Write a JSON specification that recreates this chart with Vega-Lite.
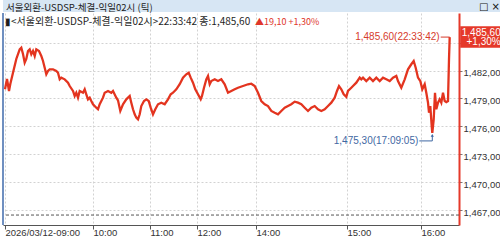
{
  "$schema": "https://vega.github.io/schema/vega-lite/v6.json",
  "padding": 0,
  "spacing": 0,
  "background": "white",
  "config": {
    "view": {"stroke": null},
    "font": "Noto Sans CJK KR",
    "axis": {"labelOverlap": false, "title": null, "gridColor": "#d2d2d2", "gridDash": [2, 2], "labelFont": "Liberation Sans", "labelFontSize": 9.5, "labelColor": "#333333"},
    "axisY": {"labelOverlap": false, "grid": true, "tickCount": 12, "domainColor": "#e5392a", "domainWidth": 2, "tickColor": "#777777", "tickSize": 3, "labelPadding": 1, "labelOffset": 2},
    "axisX": {"labelOverlap": false, "grid": true, "tickCount": 12, "domainColor": "#555555", "domainWidth": 1, "tickColor": "#555555", "tickSize": 4, "labelAlign": "left", "labelBaseline": "top", "labelPadding": -2, "labelDx": 1, "labelFlush": false, "labelBound": false}
  },
  "datasets": {
    "titlebar": [{"label": "서울외환-USDSP-체결-익일02시 (틱)", "icons": "□ ×"}],
    "header": [{"label": "▮<서울외환-USDSP-체결-익일02시>22:33:42 종:1,485,60", "chg": "▲19,10 +1,30%"}],
    "last": [{"i": 444.7, "p": 1485.6, "label": "1,485,60(22:33:42)", "price": "1,485,60", "pct": "+1,30%"}],
    "low": [{"i": 427.3, "p": 1475.3, "label": "1,475,30(17:09:05)"}],
    "ticks": [
      {"i":0,"p":1479.99},{"i":2,"p":1481.10},{"i":4,"p":1479.81},{"i":5.3,"p":1480.56},{"i":8,"p":1481.77},
      {"i":11.3,"p":1483.25},{"i":14.7,"p":1484.29},{"i":16.3,"p":1484.46},{"i":18,"p":1483.78},{"i":19.7,"p":1482.85},
      {"i":21.3,"p":1483.25},{"i":23,"p":1484.11},{"i":24.7,"p":1484.29},{"i":26.3,"p":1483.75},{"i":28,"p":1484.11},
      {"i":29.7,"p":1483.57},{"i":31.3,"p":1484.29},{"i":34,"p":1484.11},{"i":36.3,"p":1483.57},{"i":38,"p":1483.03},
      {"i":39.7,"p":1482.31},{"i":41.3,"p":1481.60},{"i":43,"p":1481.96},{"i":44.7,"p":1482.14},{"i":48,"p":1482.14},
      {"i":51.3,"p":1481.96},{"i":53,"p":1481.77},{"i":54.7,"p":1481.06},{"i":56.3,"p":1481.24},{"i":59.7,"p":1481.06},
      {"i":63,"p":1480.70},{"i":64.7,"p":1480.34},{"i":68,"p":1479.81},{"i":69.7,"p":1479.27},{"i":71.3,"p":1479.62},
      {"i":73,"p":1479.09},{"i":74.7,"p":1479.81},{"i":78,"p":1479.62},{"i":79.7,"p":1479.99},{"i":81.3,"p":1479.45},
      {"i":83,"p":1478.91},{"i":84.7,"p":1479.09},{"i":86.3,"p":1478.73},{"i":88,"p":1478.38},{"i":91.3,"p":1478.01},
      {"i":93,"p":1477.84},{"i":94.7,"p":1478.38},{"i":98,"p":1479.09},{"i":99.7,"p":1479.62},{"i":103,"p":1479.81},
      {"i":106.3,"p":1479.62},{"i":108,"p":1479.81},{"i":111.3,"p":1479.09},{"i":113,"p":1478.80},{"i":115.3,"p":1477.66},
      {"i":118,"p":1478.38},{"i":121.3,"p":1478.91},{"i":124.7,"p":1479.27},{"i":126.3,"p":1478.55},{"i":128,"p":1477.84},
      {"i":129.7,"p":1477.30},{"i":131.3,"p":1476.94},{"i":133,"p":1476.76},{"i":134.7,"p":1477.30},{"i":136.3,"p":1478.19},
      {"i":139,"p":1478.73},{"i":141.3,"p":1478.91},{"i":143.7,"p":1478.73},{"i":145.7,"p":1478.01},{"i":148,"p":1477.30},
      {"i":150.3,"p":1477.84},{"i":153,"p":1478.38},{"i":156.3,"p":1478.55},{"i":159.7,"p":1478.38},{"i":163,"p":1478.91},
      {"i":165.7,"p":1479.45},{"i":168,"p":1479.62},{"i":171.3,"p":1479.99},{"i":174.7,"p":1480.53},{"i":178,"p":1481.24},
      {"i":181.3,"p":1481.60},{"i":183.7,"p":1481.77},{"i":185.7,"p":1481.24},{"i":188,"p":1480.70},{"i":190.3,"p":1479.99},
      {"i":193,"p":1479.45},{"i":195.7,"p":1478.91},{"i":197,"p":1479.27},{"i":199,"p":1480.16},{"i":201.3,"p":1481.06},
      {"i":203,"p":1481.42},{"i":204.7,"p":1480.53},{"i":206.3,"p":1480.88},{"i":209.7,"p":1481.06},{"i":213,"p":1480.88},
      {"i":216.3,"p":1481.06},{"i":219.7,"p":1480.53},{"i":223,"p":1479.62},{"i":226.3,"p":1479.81},{"i":229.7,"p":1479.99},
      {"i":233,"p":1480.16},{"i":238,"p":1480.34},{"i":243,"p":1480.53},{"i":246.3,"p":1480.59},{"i":249.7,"p":1480.34},
      {"i":253,"p":1479.62},{"i":256.3,"p":1478.73},{"i":259.7,"p":1478.38},{"i":263,"p":1478.19},{"i":266.3,"p":1477.66},
      {"i":269.7,"p":1477.47},{"i":273,"p":1477.30},{"i":276.3,"p":1477.66},{"i":279.7,"p":1478.01},{"i":283,"p":1478.19},
      {"i":286.3,"p":1478.38},{"i":289.7,"p":1478.66},{"i":293,"p":1478.55},{"i":296.3,"p":1478.38},{"i":299.7,"p":1478.01},
      {"i":303,"p":1477.66},{"i":306.3,"p":1478.01},{"i":309.7,"p":1478.19},{"i":313,"p":1477.84},{"i":316.3,"p":1477.66},
      {"i":319.7,"p":1477.84},{"i":323,"p":1478.19},{"i":326.3,"p":1478.55},{"i":329.7,"p":1479.09},{"i":332,"p":1479.81},
      {"i":334,"p":1480.34},{"i":336.3,"p":1479.99},{"i":338.7,"p":1479.45},{"i":341.3,"p":1479.18},{"i":343,"p":1479.81},
      {"i":346.3,"p":1480.16},{"i":348,"p":1480.34},{"i":351.3,"p":1480.70},{"i":354.7,"p":1481.24},{"i":356.3,"p":1481.06},
      {"i":358,"p":1481.24},{"i":361.3,"p":1480.88},{"i":364.7,"p":1481.24},{"i":368,"p":1480.88},{"i":371.3,"p":1481.24},
      {"i":374.7,"p":1480.88},{"i":378,"p":1481.24},{"i":381.3,"p":1481.06},{"i":384.7,"p":1480.88},{"i":388,"p":1481.24},
      {"i":391.3,"p":1481.42},{"i":393,"p":1480.88},{"i":396.3,"p":1480.16},{"i":399.7,"p":1481.06},{"i":403,"p":1482.14},
      {"i":406.3,"p":1482.68},{"i":408.7,"p":1483.03},{"i":410.7,"p":1482.31},{"i":413,"p":1481.24},{"i":415.3,"p":1480.88},
      {"i":417.3,"p":1479.99},{"i":419.7,"p":1480.53},{"i":421.3,"p":1479.62},{"i":423,"p":1478.55},{"i":424,"p":1477.47},
      {"i":425.3,"p":1478.19},{"i":426.7,"p":1476.04},{"i":427.3,"p":1475.30},{"i":428.7,"p":1476.76},{"i":430,"p":1479.62},
      {"i":431.3,"p":1477.84},{"i":433,"p":1478.55},{"i":434.7,"p":1478.91},{"i":436.3,"p":1478.55},{"i":438,"p":1479.62},
      {"i":439.7,"p":1478.73},{"i":441.3,"p":1478.62},{"i":443,"p":1478.73},{"i":444,"p":1483.22},{"i":444.7,"p":1485.60}
    ]
  },
  "vconcat": [
    {
      "width": 500,
      "height": 12,
      "view": {"fill": "#d7e6f4", "stroke": null},
      "data": {"name": "titlebar"},
      "layer": [
        {
          "mark": {"type": "text", "align": "left", "baseline": "middle", "dy": 1.5, "font": "Noto Sans CJK KR", "fontSize": 9.5, "color": "#222222"},
          "encoding": {
            "x": {"datum": 3, "type": "quantitative", "scale": {"domain": [0, 500], "nice": false, "zero": false}, "axis": null},
            "text": {"field": "label"}
          }
        },
        {
          "mark": {"type": "text", "align": "right", "baseline": "middle", "dy": 1, "font": "DejaVu Sans", "fontSize": 10, "color": "#111111"},
          "encoding": {
            "x": {"datum": 497, "type": "quantitative", "scale": {"domain": [0, 500], "nice": false, "zero": false}, "axis": null},
            "text": {"field": "icons"}
          }
        }
      ]
    },
    {
      "width": 456,
      "height": 212,
      "layer": [
        {
          "data": {"name": "ticks"},
          "mark": {"type": "line", "color": "#e3341f", "strokeWidth": 2.3},
          "encoding": {
            "x": {
              "field": "i", "type": "quantitative", "title": null,
              "scale": {"domain": [-2, 454], "nice": false, "zero": false},
              "axis": {
                "orient": "bottom", "title": null, "labelOverlap": false, "tickCount": 12,
                "values": [0, 88, 145, 192, 251, 342, 416],
                "labelExpr": "datum.value == 0 ? '2026/03/12-09:00' : datum.value == 88 ? '10:00' : datum.value == 145 ? '11:00' : datum.value == 192 ? '12:00' : datum.value == 251 ? '14:00' : datum.value == 342 ? '15:00' : '16:00'"
              }
            },
            "y": {
              "field": "p", "type": "quantitative", "title": null,
              "scale": {"domain": [1465.4, 1488.19], "nice": false, "zero": false},
              "axis": {
                "orient": "right", "title": null, "labelOverlap": false, "tickCount": 12,
                "values": [1467, 1470, 1473, 1476, 1479, 1482, 1485],
                "labelExpr": "datum.value >= 1485 ? '' : replace(format(datum.value, ',.2f'), '.', ',')"
              }
            }
          }
        },
        {
          "data": {"name": "last"},
          "mark": {"type": "rule", "color": "#555555", "strokeDash": [3, 2], "strokeWidth": 1},
          "encoding": {
            "y": {"datum": 1466.47, "type": "quantitative", "title": null, "scale": {"domain": [1465.4, 1488.19], "nice": false, "zero": false}}
          }
        },
        {
          "data": {"name": "last"},
          "mark": {"type": "rule", "color": "#6f8fc0", "strokeWidth": 2},
          "encoding": {
            "x": {"datum": -2, "type": "quantitative", "title": null, "scale": {"domain": [-2, 454], "nice": false, "zero": false}}
          }
        },
        {
          "data": {"name": "last"},
          "mark": {"type": "text", "align": "right", "baseline": "middle", "dx": -10, "color": "#d63b2b", "font": "Liberation Sans", "fontSize": 10},
          "encoding": {
            "x": {"field": "i", "type": "quantitative", "title": null, "scale": {"domain": [-2, 454], "nice": false, "zero": false}},
            "y": {"field": "p", "type": "quantitative", "title": null, "scale": {"domain": [1465.4, 1488.19], "nice": false, "zero": false}},
            "text": {"field": "label"}
          }
        },
        {
          "data": {"name": "last"},
          "mark": {"type": "rule", "color": "#d63b2b", "strokeWidth": 1, "xOffset": -9, "x2Offset": 0},
          "encoding": {
            "x": {"field": "i", "type": "quantitative", "title": null, "scale": {"domain": [-2, 454], "nice": false, "zero": false}},
            "x2": {"field": "i"},
            "y": {"field": "p", "type": "quantitative", "title": null, "scale": {"domain": [1465.4, 1488.19], "nice": false, "zero": false}}
          }
        },
        {
          "data": {"name": "low"},
          "mark": {"type": "text", "align": "right", "baseline": "middle", "dx": -14, "dy": 8, "color": "#3f68a3", "font": "Liberation Sans", "fontSize": 10},
          "encoding": {
            "x": {"field": "i", "type": "quantitative", "title": null, "scale": {"domain": [-2, 454], "nice": false, "zero": false}},
            "y": {"field": "p", "type": "quantitative", "title": null, "scale": {"domain": [1465.4, 1488.19], "nice": false, "zero": false}},
            "text": {"field": "label"}
          }
        },
        {
          "data": {"name": "low"},
          "mark": {"type": "rule", "color": "#3f68a3", "strokeWidth": 1, "xOffset": -13, "x2Offset": 0, "yOffset": 8},
          "encoding": {
            "x": {"field": "i", "type": "quantitative", "title": null, "scale": {"domain": [-2, 454], "nice": false, "zero": false}},
            "x2": {"field": "i"},
            "y": {"field": "p", "type": "quantitative", "title": null, "scale": {"domain": [1465.4, 1488.19], "nice": false, "zero": false}}
          }
        },
        {
          "data": {"name": "low"},
          "mark": {"type": "rule", "color": "#3f68a3", "strokeWidth": 1, "yOffset": 2, "y2Offset": 8},
          "encoding": {
            "x": {"field": "i", "type": "quantitative", "title": null, "scale": {"domain": [-2, 454], "nice": false, "zero": false}},
            "y": {"field": "p", "type": "quantitative", "title": null, "scale": {"domain": [1465.4, 1488.19], "nice": false, "zero": false}},
            "y2": {"field": "p"}
          }
        },
        {
          "data": {"name": "low"},
          "mark": {"type": "point", "shape": "triangle-up", "filled": true, "size": 10, "yOffset": 2.5, "color": "#3f68a3", "opacity": 1},
          "encoding": {
            "x": {"field": "i", "type": "quantitative", "title": null, "scale": {"domain": [-2, 454], "nice": false, "zero": false}},
            "y": {"field": "p", "type": "quantitative", "title": null, "scale": {"domain": [1465.4, 1488.19], "nice": false, "zero": false}}
          }
        },
        {
          "data": {"name": "last"},
          "mark": {"type": "point", "shape": "M-1,-0.5H1V0.5H-1Z", "filled": true, "size": 1849, "xOffset": 32, "color": "#e5392a", "opacity": 1, "strokeWidth": 0},
          "encoding": {
            "x": {"field": "i", "type": "quantitative", "title": null, "scale": {"domain": [-2, 454], "nice": false, "zero": false}},
            "y": {"field": "p", "type": "quantitative", "title": null, "scale": {"domain": [1465.4, 1488.19], "nice": false, "zero": false}}
          }
        },
        {
          "data": {"name": "last"},
          "mark": {"type": "text", "align": "right", "baseline": "middle", "dx": 51, "dy": -4.5, "color": "white", "font": "Liberation Sans", "fontSize": 10},
          "encoding": {
            "x": {"field": "i", "type": "quantitative", "title": null, "scale": {"domain": [-2, 454], "nice": false, "zero": false}},
            "y": {"field": "p", "type": "quantitative", "title": null, "scale": {"domain": [1465.4, 1488.19], "nice": false, "zero": false}},
            "text": {"field": "price"}
          }
        },
        {
          "data": {"name": "last"},
          "mark": {"type": "text", "align": "right", "baseline": "middle", "dx": 51, "dy": 5, "color": "white", "font": "Liberation Sans", "fontSize": 10},
          "encoding": {
            "x": {"field": "i", "type": "quantitative", "title": null, "scale": {"domain": [-2, 454], "nice": false, "zero": false}},
            "y": {"field": "p", "type": "quantitative", "title": null, "scale": {"domain": [1465.4, 1488.19], "nice": false, "zero": false}},
            "text": {"field": "pct"}
          }
        },
        {
          "data": {"name": "header"},
          "mark": {"type": "text", "align": "left", "baseline": "middle", "color": "#1e1e1e", "font": "Noto Sans CJK KR", "fontSize": 10},
          "encoding": {
            "x": {"datum": 0, "type": "quantitative", "title": null, "scale": {"domain": [-2, 454], "nice": false, "zero": false}},
            "y": {"datum": 1487.25, "type": "quantitative", "title": null, "scale": {"domain": [1465.4, 1488.19], "nice": false, "zero": false}},
            "text": {"field": "label"}
          }
        },
        {
          "data": {"name": "header"},
          "mark": {"type": "text", "align": "left", "baseline": "middle", "color": "#e0362a", "font": "Noto Sans CJK KR", "fontSize": 9},
          "encoding": {
            "x": {"datum": 250, "type": "quantitative", "title": null, "scale": {"domain": [-2, 454], "nice": false, "zero": false}},
            "y": {"datum": 1487.25, "type": "quantitative", "title": null, "scale": {"domain": [1465.4, 1488.19], "nice": false, "zero": false}},
            "text": {"field": "chg"}
          }
        }
      ]
    }
  ]
}
